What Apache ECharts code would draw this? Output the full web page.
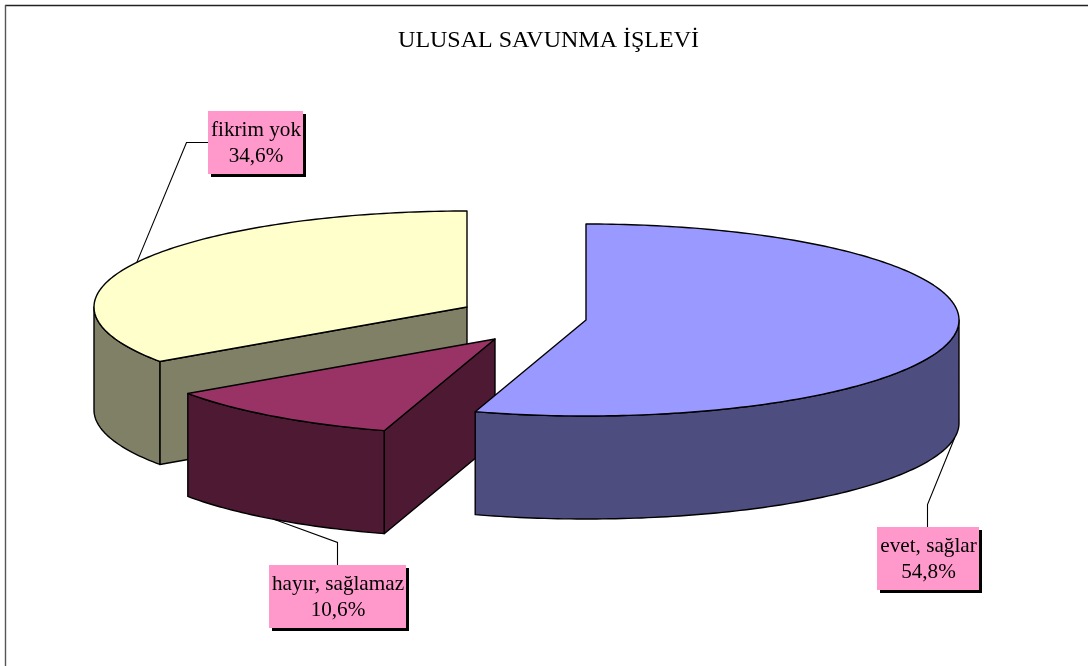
<!DOCTYPE html>
<html><head><meta charset="utf-8">
<style>html,body{margin:0;padding:0;background:#fff}#c{width:1088px;height:666px}</style>
<script src="https://cdn.jsdelivr.net/npm/echarts@6/dist/echarts.min.js"></script>
</head><body><div id="c"></div>
<script>
// Data
const categories = ['evet, sağlar', 'hayır, sağlamaz', 'fikrim yok'];
const shares = [54.8, 10.6, 34.6];
const chartTitle = 'ULUSAL SAVUNMA İŞLEVİ';

// Layout (pie projection and label placement, per category)
const RX = 373, RY = 96, DEPTH = 103;
const sliceCenters = [[586, 320], [495, 339], [467, 307]];
const topColors = ['#9999FF', '#993366', '#FFFFCC'];
const sideColors = ['#4D4D80', '#4D1933', '#808066'];
const labelBoxes = [[877, 527, 102, 63], [269, 565, 137, 63], [208, 111, 95, 63]];
const labelElbows = [[[927.5, 504.5], [927.5, 527]], [[337.5, 542.5], [337.5, 565]], [[186.5, 142.5], [208, 142.5]]];

const total = shares.reduce((a, b) => a + b, 0);
const rad = d => d * Math.PI / 180;
let running = 90;
const rows = shares.map((v, i) => {
  const a1 = running, a2 = running - v / total * 360;
  running = a2;
  return [i, v, a1, a2];
});
const drawOrder = rows.slice().reverse();

function rim(c, a, dy) {
  return [c[0] + RX * Math.cos(rad(a)), c[1] - RY * Math.sin(rad(a)) + (dy || 0)];
}
function arc(c, from, to, dy) {
  const n = Math.max(2, Math.ceil(Math.abs(from - to)));
  const pts = [];
  for (let k = 0; k <= n; k++) pts.push(rim(c, from + (to - from) * k / n, dy));
  return pts;
}
const edge = { stroke: '#000', lineWidth: 1.4, lineJoin: 'round' };
function poly(points, fill, z) {
  return { type: 'polygon', z2: z, shape: { points }, style: Object.assign({ fill }, edge) };
}
function renderItem(params, api) {
  const i = api.value(0), a1 = api.value(2), a2 = api.value(3);
  const c = sliceCenters[i], top = topColors[i], side = sideColors[i];
  const base = (2 - i) * 10;
  const kids = [];
  // radial cut walls that face the viewer
  [[a1, Math.cos(rad(a1)) < -1e-6], [a2, Math.cos(rad(a2)) > 1e-6]].forEach(([a, show]) => {
    if (!show) return;
    const p = rim(c, a);
    kids.push(poly([c, p, [p[0], p[1] + DEPTH], [c[0], c[1] + DEPTH]], side, base));
  });
  // outer rim wall: the part on the front half of the ellipse
  [[-180, 0], [-540, -360], [180, 360]].forEach(([s, e]) => {
    const f = Math.max(a2, s), t = Math.min(a1, e);
    if (t > f) {
      const up = arc(c, t, f), down = arc(c, f, t, DEPTH);
      kids.push(poly(up.concat(down), side, base + 1));
    }
  });
  // top face
  kids.push(poly([c].concat(arc(c, a1, a2)), top, base + 2));
  // leader line from the rim at the slice's mid-angle
  const mid = (a1 + a2) / 2;
  const m = rim(c, mid, Math.sin(rad(mid)) < 0 ? DEPTH : 0);
  kids.push({ type: 'polyline', z2: 40, shape: { points: [m].concat(labelElbows[i]) },
    style: { fill: null, stroke: '#000', lineWidth: 1.1 } });
  // label box with hard shadow
  const b = labelBoxes[i];
  kids.push({ type: 'rect', z2: 41, shape: { x: b[0] + 3, y: b[1] + 3, width: b[2], height: b[3] }, style: { fill: '#000' } });
  kids.push({ type: 'rect', z2: 42, shape: { x: b[0], y: b[1], width: b[2], height: b[3] }, style: { fill: '#FF99CC' } });
  kids.push({ type: 'text', z2: 43, x: b[0] + b[2] / 2 + 0.5, y: b[1] + b[3] / 2 + 1,
    style: { text: categories[i] + '\n' + api.value(1).toFixed(1).replace('.', ',') + '%',
      fill: '#000', font: '21.2px "Liberation Serif"', align: 'center', verticalAlign: 'middle', lineHeight: 25.5 } });
  return { type: 'group', children: kids };
}

const chart = echarts.init(document.getElementById('c'), null, { renderer: 'canvas' });
chart.setOption({
  animation: false,
  backgroundColor: '#fff',
  title: { text: chartTitle, left: 543.5, top: 24, textAlign: 'center',
    textStyle: { fontFamily: 'Liberation Serif', fontWeight: 'normal', fontSize: 24, color: '#000' } },
  graphic: [
    { type: 'line', shape: { x1: 5, y1: 5.5, x2: 1088, y2: 5.5 }, style: { stroke: '#222', lineWidth: 1.6 } },
    { type: 'line', shape: { x1: 5.5, y1: 5, x2: 5.5, y2: 666 }, style: { stroke: '#555', lineWidth: 1.4 } }
  ],
  series: [{ type: 'custom', coordinateSystem: 'none', renderItem, data: drawOrder,
    encode: { tooltip: 1 }, silent: true, clip: false }]
});
</script></body></html>
